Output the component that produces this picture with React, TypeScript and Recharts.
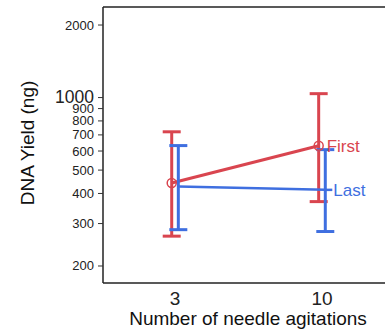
import { LineChart, Line, XAxis, YAxis, ErrorBar, ReferenceLine } from "recharts";

// agitation counts, plotted at category slots 1 and 2
const agitations = ["3", "10"];
const slots = [1, 2];

const firstMean = [442, 631];
const firstLow = [266, 370];
const firstHigh = [721, 1038];

const lastMean = [427, 414];
const lastLow = [283, 278];
const lastHigh = [632, 608];

const yTicks = [200, 300, 400, 500, 600, 700, 800, 900, 1000, 2000];

const RED = "#d9454f";
const BLUE = "#3f6fe0";
const FONT = "'Liberation Sans', Arial, sans-serif";
const FRAME = { stroke: "#222", strokeWidth: 1.5 };

const X_DOMAIN: [number, number] = [0.51, 2.49];
const Y_DOMAIN: [number, number] = [170, 2376];
const DODGE = 0.0225;

const rows = slots.map((x, i) => ({
  x,
  first: firstMean[i],
  firstErr: [firstMean[i] - firstLow[i], firstHigh[i] - firstMean[i]],
  last: lastMean[i],
  lastErr: [lastMean[i] - lastLow[i], lastHigh[i] - lastMean[i]],
}));

const YTick = ({ x, y, payload }: any) => {
  const big = payload.value === 1000;
  return (
    <text
      x={x}
      y={big ? y - 1 : y}
      textAnchor="end"
      dominantBaseline="central"
      fontSize={big ? 17.5 : 13}
      fill="#222"
      fontFamily={FONT}
    >
      {payload.value}
    </text>
  );
};

const XTick = ({ x, payload }: any) => (
  <text x={x} y={298} textAnchor="middle" dominantBaseline="central" fontSize={19} fill="#222" fontFamily={FONT}>
    {agitations[slots.indexOf(payload.value)]}
  </text>
);

const endLabel = (text: string, color: string, dash: boolean) => (props: any) => {
  const { x, y, index } = props;
  if (index !== slots.length - 1) return null;
  return (
    <g>
      {dash && <line x1={x} y1={y} x2={x + 7} y2={y} stroke={color} strokeWidth={2.5} />}
      <text x={x + 8} y={y + 1} dominantBaseline="central" fontSize={17} fill={color} fontFamily={FONT}>
        {text}
      </text>
    </g>
  );
};

export default function App() {
  // plot box runs past the right edge of the frame, so clip a wider chart
  return (
    <div style={{ position: "absolute", top: 0, left: 0, width: 385, height: 330, overflow: "hidden", background: "#fff" }}>
      <LineChart width={400} height={330} data={rows} margin={{ top: 7, right: 6, bottom: 0, left: 0 }}>
        <XAxis
          xAxisId="main"
          dataKey="x"
          type="number"
          domain={X_DOMAIN}
          ticks={slots}
          tick={<XTick />}
          tickLine={false}
          axisLine={FRAME}
          height={47}
          label={() => (
            <text x={248} y={318} textAnchor="middle" dominantBaseline="central" fontSize={19} fill="#111" fontFamily={FONT}>
              Number of needle agitations
            </text>
          )}
        />
        <XAxis xAxisId="first" dataKey="x" type="number" hide height={0} domain={[X_DOMAIN[0] + DODGE, X_DOMAIN[1] + DODGE]} />
        <XAxis xAxisId="last" dataKey="x" type="number" hide height={0} domain={[X_DOMAIN[0] - DODGE, X_DOMAIN[1] - DODGE]} />
        <YAxis
          scale="log"
          domain={Y_DOMAIN}
          allowDataOverflow
          ticks={yTicks}
          interval={0}
          width={103}
          axisLine={FRAME}
          tickLine={{ stroke: "#333" }}
          tickSize={5}
          tickMargin={4}
          tick={<YTick />}
          label={() => (
            <text
              x={27}
              y={143}
              transform="rotate(-90 27 143)"
              textAnchor="middle"
              dominantBaseline="central"
              fontSize={19}
              fill="#111"
              fontFamily={FONT}
            >
              DNA Yield (ng)
            </text>
          )}
        />
        <ReferenceLine xAxisId="main" y={Y_DOMAIN[1]} {...FRAME} ifOverflow="visible" />
        <Line
          xAxisId="first"
          dataKey="first"
          stroke={RED}
          strokeWidth={3}
          dot={{ r: 4.5, fill: "none", stroke: RED, strokeWidth: 1.5 }}
          activeDot={false}
          isAnimationActive={false}
          label={endLabel("First", RED, false)}
        >
          <ErrorBar dataKey="firstErr" direction="y" width={9} stroke={RED} strokeWidth={3} />
        </Line>
        <Line
          xAxisId="last"
          dataKey="last"
          stroke={BLUE}
          strokeWidth={2.5}
          dot={false}
          activeDot={false}
          isAnimationActive={false}
          label={endLabel("Last", BLUE, true)}
        >
          <ErrorBar dataKey="lastErr" direction="y" width={9} stroke={BLUE} strokeWidth={3} />
        </Line>
      </LineChart>
    </div>
  );
}
